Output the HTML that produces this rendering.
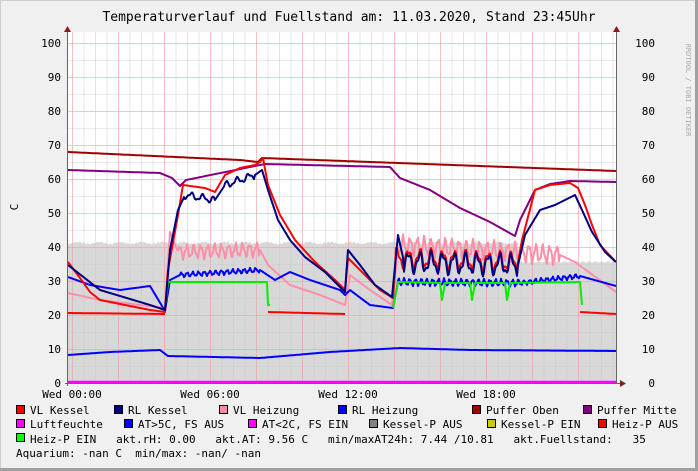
<!DOCTYPE html>
<html><head><meta charset="utf-8"><style>
body{margin:0;background:#f0f0f0}
svg{display:block}
text{font-family:"DejaVu Sans Mono","Liberation Mono",monospace;font-size:11px;fill:#000;white-space:pre}
</style></head><body>
<svg id="s" width="698" height="471" xmlns="http://www.w3.org/2000/svg">
<rect x="0.5" y="0.5" width="697" height="470" fill="#f0f0f0" stroke="#cfcfcf"/>
<rect x="0" y="468" width="698" height="3" fill="#a0a0a0"/>
<rect x="695" y="0" width="3" height="471" fill="#a0a0a0"/>
<rect x="68" y="32" width="548" height="351" fill="#fff"/>
<g id="fill"></g>
<g id="grid"></g>
<g id="lines" fill="none" stroke-linejoin="round"></g>
<line x1="67.5" y1="32" x2="67.5" y2="386" stroke="#666"/>
<line x1="616.5" y1="32" x2="616.5" y2="383" stroke="#666"/>
<line x1="65" y1="383.5" x2="620" y2="383.5" stroke="#666"/>
<polygon points="64,32 71,32 67.5,26" fill="#8b1a1a"/>
<polygon points="613,32 620,32 616.5,26" fill="#8b1a1a"/>
<polygon points="620,380 620,387 626,383.5" fill="#8b1a1a"/>
<text x="349" y="21" text-anchor="middle" style="font-size:13px">Temperaturverlauf und Fuellstand am: 11.03.2020, Stand 23:45Uhr</text>
<text transform="translate(18,207) rotate(-90)" text-anchor="middle">C</text>
<text transform="translate(686,90) rotate(90)" text-anchor="middle" style="font-size:7px;fill:#aaa">RRDTOOL / TOBI OETIKER</text>
<g id="lab"></g>
<g id="leg"></g>
<text x="16" y="457">Aquarium: -nan C  min/max: -nan/ -nan</text>
</svg>
<script>
const NS="http://www.w3.org/2000/svg";
function el(p,t,a,txt){const e=document.createElementNS(NS,t);for(const k in a)e.setAttribute(k,a[k]);if(txt!=null)e.textContent=txt;document.getElementById(p).appendChild(e);return e;}
for(let v=5;v<=100;v+=5){const y=383-3.4*v+0.5;el("grid","line",{x1:68,x2:616,y1:y,y2:y,stroke:v%10?"#c8c8c8":"#f0a0a0","stroke-width":v%10?0.6:0.8,opacity:0.8});}
for(let i=-1;i<50;i++){const x=72+11.5*i+0.5;if(x<68||x>616)continue;el("grid","line",{x1:x,x2:x,y1:32,y2:383,stroke:i%4?"#c8c8c8":"#f0a0a0","stroke-width":i%4?0.6:0.8,opacity:0.8});}
for(let v=0;v<=100;v+=10){const y=383-3.4*v+4;el("lab","text",{x:61,y:y,"text-anchor":"end"},v);el("lab","text",{x:655,y:y,"text-anchor":"end"},v);}
[["Wed 00:00",72],["Wed 06:00",210],["Wed 12:00",348],["Wed 18:00",486]].forEach(a=>el("lab","text",{x:a[1],y:398,"text-anchor":"middle"},a[0]));
let fp="M68,383 ";for(let x=68;x<=616;x+=2){let y=x<520?243+Math.sin(x*1.7)*1+Math.sin(x*.3)*1:262+Math.sin(x)*0.8;fp+="L"+x+","+y.toFixed(1)+" ";}fp+="L616,383Z";
el("fill","path",{d:fp,fill:"#d8d8d8"});
function noisy(pts,amp,per){let out=[];for(let i=0;i<pts.length-1;i++){const [x0,y0,a0]=pts[i],[x1,y1]=pts[i+1];for(let x=x0;x<x1;x+=1){const t=(x-x0)/(x1-x0);let y=y0+(y1-y0)*t;const a=(a0||0);if(a)y+=Math.sin(x*per)*a+Math.sin(x*per*2.3)*a*0.4;out.push(x+","+y.toFixed(1));}}const l=pts[pts.length-1];out.push(l[0]+","+l[1]);return out.join(" ");}
function L(pts,c,w,amp,per){el("lines","polyline",{points:noisy(pts,amp,per||0.8),stroke:c,"stroke-width":w||2});}
L([[68,382],[616,382]],"#ff00ff",2.5);
L([[68,355],[110,352],[160,350],[168,356],[260,358],[330,352],[400,348],[470,350],[616,351]],"#0000ff",2);
L([[68,152],[240,160],[258,162],[262,158],[616,171]],"#a00000",2);
L([[68,170],[160,173],[172,178],[180,186],[186,180],[260,165],[265,164],[390,167],[400,178],[430,190],[460,208],[490,222],[515,236],[520,220],[535,190],[550,184],[570,181],[616,182]],"#800080",2);
L([[68,293],[100,300],[165,308],[170,232],[178,252,6],[260,250],[268,265],[290,285],[320,295],[345,305],[350,275],[370,290],[392,305],[398,245,8],[560,255],[575,262],[616,292]],"#ff8fa8",2,0,0.9);
L([[68,277],[90,285],[120,290],[150,286],[165,311],[170,280],[180,275,2],[260,270],[275,280],[290,272],[310,280],[340,290],[345,295],[350,290],[370,305],[393,308],[398,282,3],[520,283,2],[580,276],[616,286]],"#0000ff",2,0,1.1);
L([[68,313],[165,314]],"#ff0000",2);L([[268,312],[345,314]],"#ff0000",2);L([[580,312],[616,314]],"#ff0000",2);
L([[165,310],[168,282],[268,282],[268,305],[270,305]],"#00ee00",2);
L([[393,308],[398,282],[440,283],[442,300],[445,283],[470,283],[472,300],[475,283],[505,283],[507,300],[510,283],[580,282],[582,305]],"#00ee00",2);
L([[68,262],[80,278],[90,292],[100,300],[150,310],[165,312],[168,270],[178,215],[183,185],[205,188],[215,192],[225,175],[240,168],[255,165],[260,162],[263,158],[268,185],[280,215],[295,240],[315,262],[335,280],[345,290],[348,258],[360,270],[380,290],[393,298],[396,258,8],[518,262],[522,240],[535,190],[550,185],[570,183],[578,188],[585,205],[592,225],[600,245],[616,262]],"#ff0000",2,0,0.55);
L([[68,265],[100,290],[150,305],[165,310],[170,250],[178,210],[185,195,3],[215,200],[225,185,3],[255,175],[262,170],[268,190],[278,220],[290,240],[305,257],[325,272],[345,292],[348,250],[360,265],[375,285],[392,297],[398,235],[404,262,9],[518,265],[525,235],[540,210],[555,205],[575,195],[582,210],[592,232],[605,252],[616,262]],"#000080",2,0,0.55);
const rows=[[["VL Kessel","#ff0000"],["RL Kessel","#000080"],["VL Heizung","#ff8fa0"],["RL Heizung","#0000ff"],["Puffer Oben","#a00000"],["Puffer Mitte","#800080"]],
[["Luftfeuchte","#ff00ff"],["AT>5C, FS AUS","#0000ff"],["AT<2C, FS EIN","#ff00ff"],["Kessel-P AUS","#808080"],["Kessel-P EIN","#cccc00"],["Heiz-P AUS","#ff0000"]]];
const xs=[[16,114,219,338,472,583],[16,124,248,369,487,598]];
rows.forEach((r,ri)=>r.forEach((it,i)=>{const x=xs[ri][i],y=405+ri*14;el("leg","rect",{x:x+0.5,y:y+0.5,width:8,height:8,fill:it[1],stroke:"#000"});el("leg","text",{x:x+14,y:y+9},it[0]);}));
el("leg","rect",{x:16.5,y:433.5,width:8,height:8,fill:"#00ff00",stroke:"#000"});
el("leg","text",{x:30,y:443},"Heiz-P EIN   akt.rH: 0.00   akt.AT: 9.56 C   min/maxAT24h: 7.44 /10.81   akt.Fuellstand:   35");
</script>
</body></html>
